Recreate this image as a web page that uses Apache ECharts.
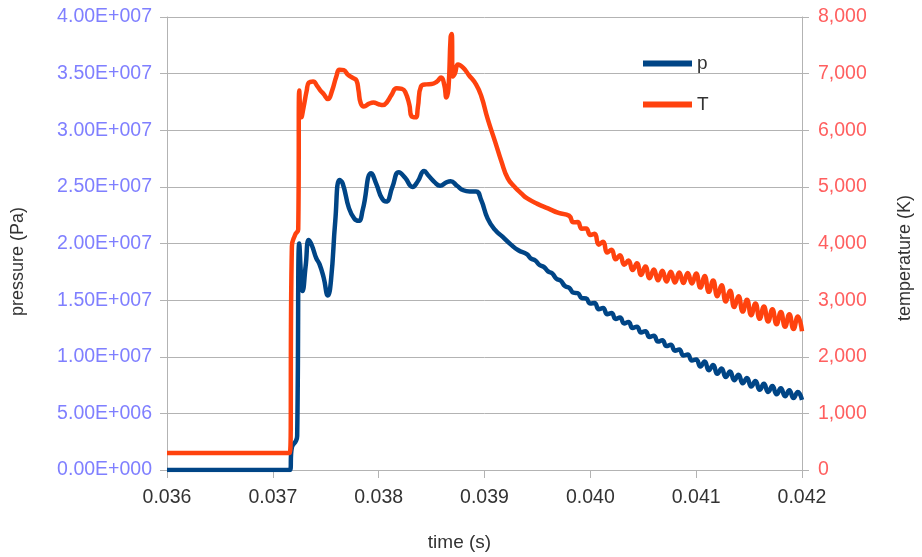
<!DOCTYPE html>
<html>
<head>
<meta charset="utf-8">
<script src="https://cdn.jsdelivr.net/npm/echarts@6/dist/echarts.min.js"></script>
<style>
    html, body { margin: 0; padding: 0; background: #fff; }
    #chart { width: 922px; height: 557px; }
</style>
</head>
<body>
<div id="chart"></div>
<script>
// time ticks (s)
const timeTicks = [0.036, 0.037, 0.038, 0.039, 0.040, 0.041, 0.042]

// pressure p (Pa)
const pressureTime = [
    0.036, 0.03716, 0.03718, 0.03722, 0.03723, 0.03725, 0.03727, 0.03728, 0.03731, 0.03734,
    0.03737, 0.03741, 0.03744, 0.03748, 0.03752, 0.03755, 0.03759, 0.03763, 0.03766, 0.03772,
    0.03777, 0.03781, 0.03785, 0.03793, 0.03798, 0.03803, 0.03807, 0.03813, 0.03819, 0.03825,
    0.03832, 0.03837, 0.03843, 0.03847, 0.03853, 0.03858, 0.03864, 0.03868, 0.03874, 0.03880,
    0.03886, 0.03892, 0.03897, 0.03903, 0.03910, 0.03917, 0.03925, 0.03932,
    0.03940, 0.03944, 0.03948, 0.03952, 0.03956, 0.03960, 0.03964, 0.03968, 0.03972, 0.03976,
    0.03980, 0.03984, 0.03988, 0.03992, 0.03996, 0.04000, 0.04004, 0.04008, 0.04012, 0.04016,
    0.04020, 0.04024, 0.04028, 0.04032, 0.04036, 0.04040, 0.04044, 0.04048, 0.04052, 0.04056,
    0.04060, 0.04064, 0.04068, 0.04072, 0.04076, 0.04080, 0.04084, 0.04088, 0.04092, 0.04096,
    0.04100, 0.04104, 0.04108, 0.04112, 0.04116, 0.04120, 0.04124, 0.04128, 0.04132, 0.04136,
    0.04140, 0.04144, 0.04148, 0.04152, 0.04156, 0.04160, 0.04164, 0.04168, 0.04172, 0.04176,
    0.04180, 0.04184, 0.04188, 0.04192, 0.04196, 0.04200
]
const pressureValues = [
    0, 0, 2.0e6, 2.6e6, 3.0e6, 20.0e6, 16.5e6, 15.8e6, 18.0e6, 20.3e6,
    19.8e6, 18.7e6, 18.2e6, 17.0e6, 15.4e6, 16.8e6, 22.0e6, 25.6e6, 25.3e6, 23.1e6,
    22.2e6, 22.0e6, 23.0e6, 26.2e6, 25.2e6, 24.0e6, 23.7e6, 25.0e6, 26.3e6, 25.8e6,
    25.0e6, 25.5e6, 26.4e6, 26.0e6, 25.4e6, 25.1e6, 25.4e6, 25.5e6, 25.1e6, 24.7e6,
    24.6e6, 24.6e6, 23.8e6, 22.2e6, 21.2e6, 20.6e6, 19.9e6, 19.4e6,
    19.06e6, 18.66e6, 18.50e6, 18.10e6, 17.94e6, 17.54e6, 17.36e6, 16.88e6, 16.72e6, 16.24e6,
    16.10e6, 15.66e6, 15.62e6, 15.18e6, 15.14e6, 14.70e6, 14.74e6, 14.20e6, 14.30e6, 13.76e6,
    13.86e6, 13.34e6, 13.46e6, 12.94e6, 13.06e6, 12.54e6, 12.66e6, 12.14e6, 12.26e6, 11.74e6,
    11.86e6, 11.34e6, 11.46e6, 10.94e6, 11.06e6, 10.54e6, 10.64e6, 10.10e6, 10.20e6, 9.66e6,
    9.76e6, 9.13e6, 9.59e6, 8.81e6, 9.27e6, 8.49e6, 8.97e6, 8.21e6, 8.69e6, 7.93e6,
    8.41e6, 7.65e6, 8.13e6, 7.37e6, 7.85e6, 7.09e6, 7.61e6, 6.89e6, 7.41e6, 6.69e6,
    7.21e6, 6.51e6, 7.05e6, 6.35e6, 6.89e6, 6.19e6
]

// temperature T (K)
const temperatureTime = [
    0.036, 0.03716, 0.03718, 0.03721, 0.03724, 0.03725, 0.03727, 0.03729, 0.03732, 0.03734,
    0.03738, 0.03742, 0.03745, 0.03748, 0.03752, 0.03756, 0.03760, 0.03763, 0.03767, 0.03771,
    0.03776, 0.03779, 0.03781, 0.03783, 0.03786, 0.03791, 0.03795, 0.03800, 0.03804, 0.03808,
    0.03812, 0.03817, 0.03822, 0.03825, 0.03829, 0.03831, 0.03835, 0.03837, 0.03840, 0.03845,
    0.03850, 0.03855, 0.03859, 0.03862, 0.03864, 0.03866, 0.03868, 0.03869, 0.03870, 0.03872,
    0.03875, 0.03880, 0.03885, 0.03892, 0.03897, 0.03903, 0.03910, 0.03916, 0.03922, 0.03929,
    0.03935, 0.03940, 0.03950, 0.03960, 0.03970,
    0.03980, 0.03984, 0.03988, 0.03992, 0.03996, 0.04000, 0.04004, 0.04008, 0.04012, 0.04016,
    0.04020, 0.04024, 0.04028, 0.04032, 0.04036, 0.04040, 0.04044, 0.04048, 0.04052, 0.04056,
    0.04060, 0.04064, 0.04068, 0.04072, 0.04076, 0.04080, 0.04084, 0.04088, 0.04092, 0.04096,
    0.04100, 0.04104, 0.04108, 0.04112, 0.04116, 0.04120, 0.04124, 0.04128, 0.04132, 0.04136,
    0.04140, 0.04144, 0.04148, 0.04152, 0.04156, 0.04160, 0.04164, 0.04168, 0.04172, 0.04176,
    0.04180, 0.04184, 0.04188, 0.04192, 0.04196, 0.04200
]
const temperatureValues = [
    300, 300, 3950, 4150, 4250, 6700, 6230, 6400, 6700, 6840,
    6860, 6780, 6700, 6640, 6550, 6700, 6950, 7070, 7060, 6980,
    6920, 6880, 6700, 6480, 6420, 6470, 6490, 6460, 6445, 6500,
    6620, 6740, 6730, 6680, 6450, 6250, 6230, 6400, 6775, 6810,
    6815, 6860, 6930, 6800, 6580, 6750, 7650, 7700, 6950, 7000,
    7160, 7100, 6980, 6810, 6600, 6200, 5800, 5450, 5150, 4990,
    4880, 4800, 4700, 4620, 4540,
    4490, 4374, 4378, 4262, 4266, 4150, 4170, 3980, 4030, 3840,
    3890, 3722, 3794, 3626, 3698, 3530, 3652, 3444, 3596, 3388,
    3540, 3350, 3520, 3330, 3500, 3310, 3486, 3302, 3478, 3294,
    3470, 3222, 3424, 3146, 3348, 3070, 3262, 2974, 3166, 2878,
    3070, 2798, 3006, 2734, 2942, 2670, 2886, 2622, 2838, 2574,
    2790, 2530, 2750, 2490, 2710, 2450
]

const pair = (xs, ys) => xs.slice(0, Math.min(xs.length, ys.length)).map((x, i) => [x, ys[i]])

const sciLabel = v => {
    if (!v) return '0.00E+000'
    let exp = Math.floor(Math.log10(v) + 1e-9)
    let mant = v / Math.pow(10, exp)
    return mant.toFixed(2) + 'E+' + String(exp).padStart(3, '0')
}

let font = 'Liberation Sans'
let gridColor = '#b3b3b3'

let option = {
    animation: false,
    backgroundColor: '#fff',
    textStyle: { fontFamily: font },
    grid: {
        left: 167,
        right: 116,
        top: 17,
        bottom: 83
    },
    legend: {
        orient: 'vertical',
        left: 638,
        top: 49,
        icon: 'rect',
        itemWidth: 49,
        itemHeight: 6,
        itemGap: 22,
        textStyle: { fontFamily: font, fontSize: 19, color: '#333' },
        data: ['p', 'T']
    },
    xAxis: {
        type: 'value',
        min: timeTicks[0],
        max: timeTicks[timeTicks.length - 1],
        interval: 0.001,
        name: 'time (s)',
        nameLocation: 'middle',
        nameGap: 63,
        nameTextStyle: { fontFamily: font, fontSize: 19, color: '#333', padding: [0, 50, 0, 0] },
        axisLine: { show: true, lineStyle: { color: gridColor, width: 1 } },
        axisTick: { show: true, length: 8, lineStyle: { color: gridColor } },
        axisLabel: {
            margin: 18,
            fontFamily: font,
            fontSize: 19.5,
            color: '#333',
            formatter: v => v.toFixed(3)
        },
        splitLine: { show: false }
    },
    yAxis: [
        {
            type: 'value',
            position: 'left',
            min: 0,
            max: 4e7,
            interval: 5e6,
            name: 'pressure (Pa)',
            nameLocation: 'middle',
            nameRotate: 90,
            nameGap: 140,
            nameTextStyle: { fontFamily: font, fontSize: 18, color: '#333', padding: [0, 36, 0, 0] },
            axisLine: { show: true, lineStyle: { color: gridColor, width: 1 } },
            axisTick: { show: true, length: 7, lineStyle: { color: gridColor } },
            axisLabel: {
                margin: 15,
                fontFamily: font,
                fontSize: 19.5,
                color: '#7f7fff',
                formatter: sciLabel
            },
            splitLine: { show: true, lineStyle: { color: gridColor, width: 1 } }
        },
        {
            type: 'value',
            position: 'right',
            min: 0,
            max: 8000,
            interval: 1000,
            name: 'temperature (K)',
            nameLocation: 'middle',
            nameRotate: 90,
            nameGap: 94,
            nameTextStyle: { fontFamily: font, fontSize: 18, color: '#333', padding: [0, 29, 0, 0] },
            axisLine: { show: true, lineStyle: { color: gridColor, width: 1 } },
            axisTick: { show: true, length: 7, lineStyle: { color: gridColor } },
            axisLabel: {
                margin: 16,
                fontFamily: font,
                fontSize: 19.5,
                color: '#ff5f5f',
                formatter: v => v.toLocaleString('en-US')
            },
            splitLine: { show: false }
        }
    ],
    series: [
        {
            name: 'p',
            type: 'line',
            yAxisIndex: 0,
            showSymbol: false,
            smooth: 0.5,
            color: '#004586',
            lineStyle: { width: 4.5, color: '#004586' },
            data: pair(pressureTime, pressureValues)
        },
        {
            name: 'T',
            type: 'line',
            yAxisIndex: 1,
            showSymbol: false,
            smooth: 0.5,
            color: '#ff420e',
            lineStyle: { width: 4.5, color: '#ff420e' },
            data: pair(temperatureTime, temperatureValues)
        }
    ]
}

let EC = echarts.init(document.getElementById('chart'))
EC.setOption(option)
</script>
</body>
</html>
